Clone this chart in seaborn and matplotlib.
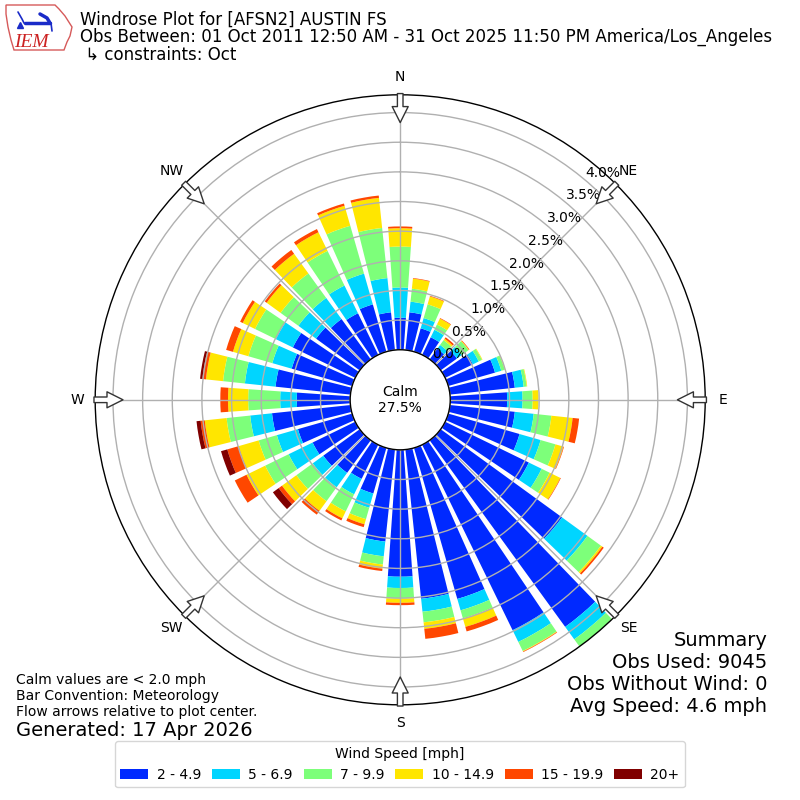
import numpy as np
import matplotlib
matplotlib.use("Agg")
import matplotlib.pyplot as plt
from matplotlib.patches import Circle, Polygon
import seaborn as sns

# ─── DATA ─────────────────────────────────────────────────────────────────────
DIRECTIONS = list(range(0, 360, 10))          # bar centres, degrees from north
SPEED_BINS = ["2 - 4.9", "5 - 6.9", "7 - 9.9", "10 - 14.9", "15 - 19.9", "20+"]
CARDINALS = ["N", "NE", "E", "SE", "S", "SW", "W", "NW"]

# frequency (% of obs) per direction, one list per speed bin
SPD_2_5 = [0.54, 0.64, 0.41, 0.33, 0.22, 0.34, 0.52, 0.82, 1.10, 0.96, 1.10, 1.25,
           1.57, 2.53, 3.89, 3.48, 2.65, 2.53, 2.14, 1.56, 0.80, 0.64, 0.68, 0.76,
           0.80, 0.95, 1.33, 0.90, 1.27, 1.06, 1.17, 0.91, 0.84, 0.78, 0.83, 0.64]
SPD_5_7 = [0.51, 0.18, 0.18, 0.14, 0.08, 0.10, 0.11, 0.11, 0.15, 0.26, 0.32, 0.37,
           0.24, 0.53, 0.26, 0.22, 0.20, 0.22, 0.19, 0.25, 0.25, 0.29, 0.30, 0.22,
           0.45, 0.37, 0.37, 0.28, 0.52, 0.34, 0.32, 0.37, 0.44, 0.52, 0.54, 0.58]
SPD_7_10 = [0.69, 0.22, 0.24, 0.10, 0.10, 0.14, 0.06, 0.06, 0.05, 0.17, 0.30, 0.26,
            0.15, 0.28, 0.25, 0.17, 0.14, 0.18, 0.18, 0.14, 0.20, 0.32, 0.29, 0.34,
            0.44, 0.32, 0.40, 0.54, 0.37, 0.42, 0.39, 0.37, 0.51, 0.65, 0.84, 0.85]
SPD_10_15 = [0.31, 0.17, 0.14, 0.11, 0.03, 0.01, 0.01, 0.01, 0.01, 0.10, 0.36, 0.14,
             0.20, 0.03, 0.05, 0.01, 0.15, 0.11, 0.07, 0.07, 0.09, 0.13, 0.20, 0.30,
             0.35, 0.35, 0.37, 0.34, 0.29, 0.27, 0.23, 0.29, 0.41, 0.35, 0.35, 0.51]
SPD_15_20 = [0.03, 0.01, 0.01, 0.01, 0.03, 0.01, 0.00, 0.00, 0.00, 0.00, 0.11, 0.01,
             0.01, 0.03, 0.02, 0.01, 0.08, 0.17, 0.04, 0.04, 0.05, 0.04, 0.08, 0.07,
             0.22, 0.20, 0.07, 0.13, 0.06, 0.12, 0.05, 0.04, 0.08, 0.06, 0.04, 0.04]
SPD_20_UP = [0.00, 0.00, 0.00, 0.00, 0.00, 0.00, 0.00, 0.00, 0.00, 0.00, 0.00, 0.00,
             0.00, 0.00, 0.00, 0.00, 0.00, 0.00, 0.00, 0.00, 0.00, 0.00, 0.00, 0.12,
             0.00, 0.11, 0.07, 0.00, 0.04, 0.00, 0.00, 0.00, 0.00, 0.00, 0.00, 0.00]
SERIES = [SPD_2_5, SPD_5_7, SPD_7_10, SPD_10_15, SPD_15_20, SPD_20_UP]

CALM_PCT = 27.5
RTICKS = [0.0, 0.5, 1.0, 1.5, 2.0, 2.5, 3.0, 3.5, 4.0]

TITLE_LINES = [
    "Windrose Plot for [AFSN2] AUSTIN FS",
    "Obs Between: 01 Oct 2011 12:50 AM - 31 Oct 2025 11:50 PM America/Los_Angeles",
    " \u21b3 constraints: Oct",
]
NOTES = ["Calm values are < 2.0 mph", "Bar Convention: Meteorology",
         "Flow arrows relative to plot center."]
GENERATED = "Generated: 17 Apr 2026"
SUMMARY = ["Summary", "Obs Used: 9045", "Obs Without Wind: 0", "Avg Speed: 4.6 mph"]

# ─── STYLE ────────────────────────────────────────────────────────────────────
sns.set_style("white", rc={"text.color": "black", "xtick.color": "black",
                           "ytick.color": "black", "axes.labelcolor": "black"})
plt.rcParams["font.family"] = ["DejaVu Sans"]
COLORS = sns.color_palette([plt.get_cmap("jet")(v) for v in np.linspace(1 / 6, 1, 6)])

# ─── PLOT ─────────────────────────────────────────────────────────────────────
fig = plt.figure(figsize=(8, 8), dpi=100)
ax = fig.add_axes([0.119, 0.119, 0.7625, 0.7625], projection="polar")
ax.set_theta_zero_location("N")
ax.set_theta_direction(-1)

OFFSET = 50 / 59.25          # calm circle radius, in % units
RMAX = OFFSET + 4.30

theta = np.deg2rad(DIRECTIONS)
width = np.deg2rad(10) * 0.8
bottom = np.full(len(DIRECTIONS), OFFSET)
handles = []
for vals, color, label in zip(SERIES, COLORS, SPEED_BINS):
    bars = ax.bar(theta, vals, width=width, bottom=bottom, color=color,
                  label=label, linewidth=0)
    handles.append(bars)
    bottom = bottom + np.array(vals)

ax.set_ylim(0, RMAX)
ax.set_yticks([OFFSET + t for t in RTICKS])
ax.set_yticklabels([f"{t:.1f}%" for t in RTICKS], fontsize=10)
ax.set_rlabel_position(40)
ax.set_xticks(np.deg2rad(np.arange(0, 360, 45)))
ax.set_xticklabels(CARDINALS, fontsize=10)
ax.tick_params(axis="x", pad=2.5)
ax.set_axisbelow(False)
ax.grid(True, color="#b0b0b0", linewidth=1)
ax.spines["polar"].set_color("black")
ax.spines["polar"].set_linewidth(1)

# calm circle
ax.add_patch(Circle((0.5, 0.5), 0.5 * OFFSET / RMAX, transform=ax.transAxes,
                    facecolor="white", edgecolor="black", linewidth=1, zorder=5))
ax.text(0.5, 0.5, f"Calm\n{CALM_PCT:.1f}%", transform=ax.transAxes,
        ha="center", va="center", fontsize=10, zorder=6)

# flow arrows at the rim
for ang in np.deg2rad(np.arange(0, 360, 45)):
    ax.annotate("", xy=(ang, 277 / 59.25), xytext=(ang, 306 / 59.25),
                arrowprops=dict(arrowstyle="simple,head_length=0.8,head_width=0.8,tail_width=0.28",
                                fc="white", ec="#333333", lw=1, mutation_scale=14.4,
                                shrinkA=0, shrinkB=0),
                annotation_clip=False, zorder=7)

# ─── TEXT ─────────────────────────────────────────────────────────────────────
for i, line in enumerate(TITLE_LINES):
    fig.text(0.1, 0.975 - i * 0.0215, line, fontsize=12, va="center")
for i, line in enumerate(NOTES):
    fig.text(0.02, 0.15 - i * 0.02, line, fontsize=10, va="center")
fig.text(0.02, 0.0875, GENERATED, fontsize=14, va="center")
for i, line in enumerate(SUMMARY):
    fig.text(0.959, 0.2 - i * 0.0275, line, fontsize=14, va="center", ha="right")

fig.legend(handles, SPEED_BINS, loc="lower center", bbox_to_anchor=(0.5, 0.007),
           ncol=6, title="Wind Speed [mph]", fontsize=10, title_fontsize=10,
           frameon=True, handletextpad=0.6, columnspacing=0.8)

# ─── LOGO (rough IEM mark), drawn in pixel units ─────────────────────────────
lax = fig.add_axes([0, 1 - 56 / 800, 80 / 800, 56 / 800])
lax.set_xlim(0, 80)
lax.set_ylim(56, 0)
lax.axis("off")
iowa = [(6, 5), (55, 5), (59, 9), (65, 16), (72, 27), (70, 36), (67, 42), (64, 50),
        (14, 50), (11, 40), (8, 27), (6, 14)]
lax.add_patch(Polygon(iowa, closed=True, fill=False, edgecolor="#d65a5a", linewidth=1))
lax.plot([25, 50], [23, 23], color="#1a2bc8", linewidth=2.5)
lax.plot([18, 22, 24], [12, 19, 23], color="#1a2bc8", linewidth=1.2)
lax.plot([40, 47, 50], [14, 18, 23], color="#1a2bc8", linewidth=2.5)
lax.plot([51, 52], [23, 31], color="#1a2bc8", linewidth=1.2)
lax.plot([20], [25], marker="^", color="#1a2bc8", markersize=4)
lax.text(14, 47, "IEM", fontsize=14, color="#cc2222", family="Liberation Serif",
         style="italic", va="baseline")

fig.savefig("out.png", dpi=100)
